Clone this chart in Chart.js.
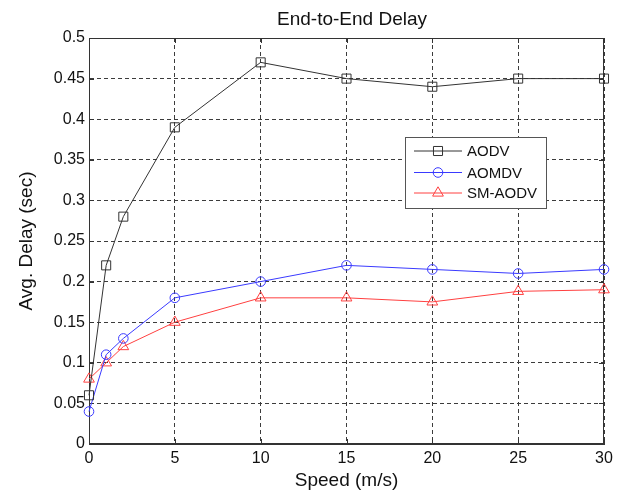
<!DOCTYPE html>
<html>
<head>
<meta charset="utf-8">
<script src="https://cdn.jsdelivr.net/npm/chart.js@4/dist/chart.umd.min.js"></script>
<style>
  html, body { margin: 0; padding: 0; background: #fff; }
  #wrap { width: 623px; height: 495px; }
</style>
</head>
<body>
<div id="wrap"><canvas id="grafico" width="623" height="495"></canvas></div>
<script>
// --- dados ---
const speeds = [0, 1, 2, 5, 10, 15, 20, 25, 30];
const aodv   = [0.06, 0.22, 0.28, 0.39, 0.47, 0.45, 0.44, 0.45, 0.45];
const aomdv  = [0.04, 0.11, 0.13, 0.18, 0.20, 0.22, 0.215, 0.21, 0.215];
const smAodv = [0.08, 0.10, 0.12, 0.15, 0.18, 0.18, 0.175, 0.188, 0.19];

const seriesNames = ["AODV", "AOMDV", "SM-AODV"];
const xTicks = [0, 5, 10, 15, 20, 25, 30];
const yTicks = [0, 0.05, 0.1, 0.15, 0.2, 0.25, 0.3, 0.35, 0.4, 0.45, 0.5];
const yTickLabels = ["0", "0.05", "0.1", "0.15", "0.2", "0.25", "0.3", "0.35", "0.4", "0.45", "0.5"];

const FONTE = "'Liberation Sans', Arial, Helvetica, sans-serif";
const cores = ["#333333", "#3a3aff", "#ff4040"];
const marcadores = ["rect", "circle", "triangle"];
const raios = [6.4, 4.8, 6.2];

const pontos = (ys) => speeds.map((s, i) => ({ x: s, y: ys[i] }));

const datasets = [aodv, aomdv, smAodv].map((ys, i) => ({
  label: seriesNames[i],
  data: pontos(ys),
  borderColor: cores[i],
  borderWidth: 1,
  pointStyle: marcadores[i],
  pointRadius: raios[i],
  pointBorderWidth: 1,
  pointBorderColor: cores[i],
  pointBackgroundColor: "rgba(0,0,0,0)",
  tension: 0,
  clip: false,
}));

// moldura + ticks para dentro + titulo + legenda (estilo MATLAB)
const estiloMatlab = {
  id: "estiloMatlab",
  beforeDatasetsDraw(chart) {
    const { ctx, chartArea: a, scales } = chart;
    ctx.save();
    ctx.strokeStyle = "#333";
    ctx.lineWidth = 1;
    ctx.strokeRect(a.left + 0.5, a.top + 0.5, a.right - a.left - 1, a.bottom - a.top - 1);

    ctx.beginPath();
    xTicks.forEach((v) => {
      const px = Math.round(scales.x.getPixelForValue(v)) + 0.5;
      ctx.moveTo(px, a.bottom); ctx.lineTo(px, a.bottom - 5);
      ctx.moveTo(px, a.top); ctx.lineTo(px, a.top + 5);
    });
    yTicks.forEach((v) => {
      const py = Math.round(scales.y.getPixelForValue(v)) + 0.5;
      ctx.moveTo(a.left, py); ctx.lineTo(a.left + 5, py);
      ctx.moveTo(a.right, py); ctx.lineTo(a.right - 5, py);
    });
    ctx.stroke();
    ctx.restore();
  },
  afterDraw(chart) {
    const { ctx } = chart;
    ctx.save();
    // titulo
    ctx.fillStyle = "#111";
    ctx.font = "19px " + FONTE;
    ctx.textAlign = "center";
    ctx.textBaseline = "middle";
    ctx.fillText("End-to-End Delay", 352, 20);

    // legenda
    const box = { x: 405, y: 137, w: 142, h: 72 };
    ctx.fillStyle = "#fff";
    ctx.fillRect(box.x, box.y, box.w, box.h);
    ctx.strokeStyle = "#555";
    ctx.lineWidth = 1;
    ctx.strokeRect(box.x + 0.5, box.y + 0.5, box.w - 1, box.h - 1);
    const linhas = [151, 172.5, 193];
    ctx.font = "15px " + FONTE;
    ctx.textAlign = "left";
    linhas.forEach((ly, i) => {
      ctx.strokeStyle = cores[i];
      ctx.lineWidth = 1;
      ctx.beginPath();
      ctx.moveTo(414, ly); ctx.lineTo(462, ly);
      ctx.stroke();
      ctx.fillStyle = "rgba(0,0,0,0)";
      Chart.helpers.drawPoint(ctx, {
        pointStyle: marcadores[i], radius: raios[i], rotation: 0, borderWidth: 1,
      }, 438, ly);
      ctx.fillStyle = "#111";
      ctx.fillText(seriesNames[i], 467, ly + 1);
    });
    ctx.restore();
  },
};

const ctx = document.getElementById("grafico").getContext("2d");

new Chart(ctx, {
  type: "line",
  data: { datasets },
  options: {
    responsive: false,
    animation: false,
    layout: { padding: { top: 38, right: 19, left: 0, bottom: 0 } },
    plugins: { legend: { display: false }, tooltip: { enabled: false } },
    scales: {
      x: {
        type: "linear",
        min: 0,
        max: 30,
        afterBuildTicks: (s) => { s.ticks = xTicks.map((v) => ({ value: v })); },
        afterFit: (s) => { s.height = 51; },
        ticks: { color: "#111", padding: 5, font: { family: FONTE, size: 16 }, maxRotation: 0 },
        grid: { color: "#3c3c3c", lineWidth: 1, drawTicks: false },
        border: { color: "#333", width: 1, dash: [4, 3] },
        title: {
          display: true, text: "Speed (m/s)", color: "#111",
          font: { family: FONTE, size: 19 }, padding: { top: 0, bottom: 2.6 },
        },
      },
      y: {
        type: "linear",
        min: 0,
        max: 0.5,
        afterBuildTicks: (s) => { s.ticks = yTicks.map((v) => ({ value: v })); },
        afterFit: (s) => { s.width = 89; },
        ticks: {
          color: "#111", padding: 4, font: { family: FONTE, size: 16 },
          callback: (v) => yTickLabels[yTicks.findIndex((t) => Math.abs(t - v) < 1e-9)],
        },
        grid: { color: "#3c3c3c", lineWidth: 1, drawTicks: false },
        border: { color: "#333", width: 1, dash: [4, 3] },
        title: {
          display: true, text: "Avg. Delay (sec)", color: "#111",
          font: { family: FONTE, size: 19 }, padding: { top: 15.6, bottom: 0 },
        },
      },
    },
  },
  plugins: [estiloMatlab],
});
</script>
</body>
</html>
